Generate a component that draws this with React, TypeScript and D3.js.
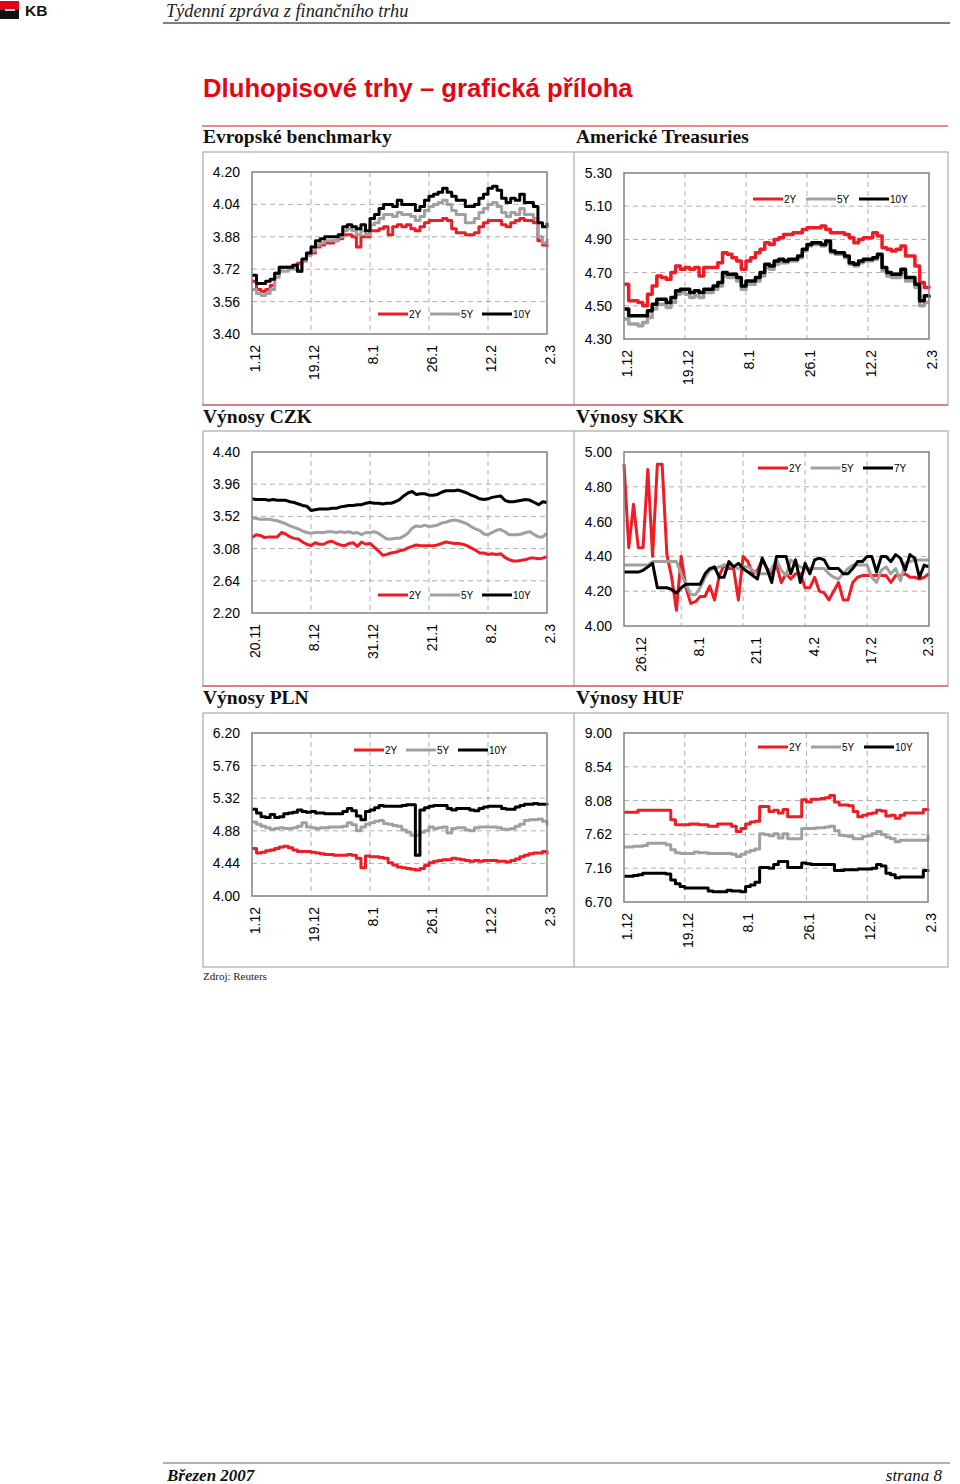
import React from 'react';
import * as d3 from 'd3';

// ---------- DATA ----------
const EUR_LABELS = ['1.12', '19.12', '8.1', '26.1', '12.2', '2.3'];
const EUR_TICK_IDX = [0, 13, 26, 39, 52, 65];
const EUR_Y_TICKS = [3.4, 3.56, 3.72, 3.88, 4.04, 4.2];
const EUR_2Y = [3.66, 3.62, 3.61, 3.62, 3.64, 3.70, 3.73, 3.73, 3.73, 3.74, 3.75, 3.76, 3.79, 3.80, 3.83, 3.84, 3.85, 3.85, 3.86, 3.87, 3.89, 3.89, 3.88, 3.83, 3.88, 3.88, 3.91, 3.91, 3.92, 3.93, 3.89, 3.93, 3.94, 3.93, 3.94, 3.92, 3.91, 3.93, 3.95, 3.96, 3.96, 3.96, 3.97, 3.96, 3.92, 3.90, 3.90, 3.89, 3.89, 3.90, 3.93, 3.95, 3.96, 3.96, 3.96, 3.94, 3.93, 3.95, 3.96, 3.97, 3.96, 3.96, 3.95, 3.86, 3.84, 3.83];
const EUR_5Y = [3.62, 3.60, 3.59, 3.60, 3.62, 3.68, 3.71, 3.71, 3.72, 3.72, 3.71, 3.76, 3.79, 3.81, 3.84, 3.85, 3.86, 3.86, 3.86, 3.88, 3.91, 3.92, 3.91, 3.89, 3.91, 3.89, 3.94, 3.95, 3.97, 3.99, 3.99, 3.98, 4.00, 3.99, 3.99, 3.98, 3.96, 3.98, 4.01, 4.03, 4.04, 4.05, 4.06, 4.04, 4.01, 3.99, 3.99, 3.95, 3.95, 3.97, 4.00, 4.02, 4.04, 4.05, 4.03, 4.00, 3.98, 4.00, 3.99, 4.02, 3.99, 3.99, 3.97, 3.88, 3.85, 3.87];
const EUR_10Y = [3.69, 3.65, 3.65, 3.66, 3.67, 3.70, 3.73, 3.73, 3.73, 3.74, 3.71, 3.77, 3.80, 3.83, 3.86, 3.87, 3.88, 3.88, 3.88, 3.89, 3.93, 3.94, 3.93, 3.92, 3.94, 3.91, 3.97, 3.99, 4.02, 4.04, 4.04, 4.03, 4.06, 4.04, 4.04, 4.04, 4.01, 4.03, 4.06, 4.08, 4.09, 4.10, 4.12, 4.10, 4.08, 4.06, 4.06, 4.03, 4.03, 4.04, 4.07, 4.09, 4.12, 4.13, 4.11, 4.07, 4.05, 4.07, 4.06, 4.09, 4.05, 4.05, 4.03, 3.95, 3.93, 3.95];

const US_LABELS = ['1.12', '19.12', '8.1', '26.1', '12.2', '2.3'];
const US_TICK_IDX = [0, 13, 26, 39, 52, 65];
const US_Y_TICKS = [4.3, 4.5, 4.7, 4.9, 5.1, 5.3];
const US_2Y = [4.63, 4.53, 4.53, 4.52, 4.50, 4.57, 4.62, 4.68, 4.67, 4.66, 4.70, 4.74, 4.72, 4.73, 4.72, 4.73, 4.68, 4.73, 4.73, 4.73, 4.76, 4.82, 4.81, 4.79, 4.77, 4.72, 4.77, 4.79, 4.82, 4.84, 4.88, 4.87, 4.90, 4.91, 4.93, 4.93, 4.94, 4.94, 4.96, 4.97, 4.97, 4.97, 4.98, 4.96, 4.94, 4.94, 4.94, 4.93, 4.91, 4.88, 4.90, 4.91, 4.91, 4.94, 4.92, 4.85, 4.84, 4.83, 4.84, 4.86, 4.80, 4.80, 4.74, 4.64, 4.61, 4.62];
const US_5Y = [4.42, 4.39, 4.39, 4.38, 4.40, 4.43, 4.48, 4.51, 4.51, 4.49, 4.52, 4.57, 4.58, 4.57, 4.55, 4.56, 4.55, 4.58, 4.58, 4.60, 4.62, 4.68, 4.67, 4.67, 4.65, 4.60, 4.63, 4.63, 4.65, 4.68, 4.73, 4.72, 4.75, 4.76, 4.76, 4.77, 4.77, 4.79, 4.83, 4.86, 4.87, 4.87, 4.86, 4.88, 4.82, 4.81, 4.81, 4.79, 4.75, 4.74, 4.76, 4.77, 4.77, 4.78, 4.80, 4.71, 4.68, 4.67, 4.67, 4.70, 4.65, 4.65, 4.61, 4.50, 4.52, 4.52];
const US_10Y = [4.48, 4.44, 4.44, 4.44, 4.44, 4.47, 4.51, 4.54, 4.54, 4.52, 4.55, 4.59, 4.60, 4.60, 4.58, 4.59, 4.58, 4.60, 4.60, 4.62, 4.64, 4.70, 4.69, 4.69, 4.67, 4.62, 4.65, 4.65, 4.67, 4.70, 4.75, 4.74, 4.77, 4.78, 4.77, 4.78, 4.78, 4.80, 4.84, 4.87, 4.88, 4.88, 4.87, 4.89, 4.83, 4.82, 4.82, 4.80, 4.76, 4.75, 4.77, 4.78, 4.78, 4.79, 4.81, 4.73, 4.70, 4.69, 4.69, 4.72, 4.67, 4.67, 4.63, 4.53, 4.56, 4.55];

const CZK_LABELS = ['20.11', '8.12', '31.12', '21.1', '8.2', '2.3'];
const CZK_TICK_IDX = [0, 14, 28, 42, 56, 70];
const CZK_Y_TICKS = [2.2, 2.64, 3.08, 3.52, 3.96, 4.4];
const CZK_2Y = [3.23, 3.27, 3.26, 3.23, 3.24, 3.24, 3.24, 3.30, 3.28, 3.24, 3.22, 3.21, 3.17, 3.14, 3.12, 3.16, 3.14, 3.14, 3.17, 3.18, 3.15, 3.13, 3.12, 3.15, 3.16, 3.11, 3.17, 3.14, 3.15, 3.10, 3.05, 2.99, 3.00, 3.02, 3.03, 3.05, 3.06, 3.09, 3.11, 3.13, 3.12, 3.12, 3.12, 3.12, 3.13, 3.15, 3.17, 3.16, 3.15, 3.15, 3.14, 3.12, 3.09, 3.06, 3.02, 3.02, 3.00, 3.01, 3.00, 3.01, 2.96, 2.93, 2.91, 2.91, 2.92, 2.93, 2.95, 2.95, 2.94, 2.95, 2.97];
const CZK_5Y = [3.50, 3.49, 3.48, 3.48, 3.48, 3.47, 3.46, 3.44, 3.42, 3.39, 3.37, 3.35, 3.32, 3.30, 3.29, 3.30, 3.30, 3.30, 3.31, 3.31, 3.30, 3.31, 3.30, 3.31, 3.29, 3.30, 3.27, 3.30, 3.30, 3.31, 3.29, 3.25, 3.21, 3.21, 3.22, 3.22, 3.25, 3.29, 3.36, 3.39, 3.38, 3.40, 3.38, 3.39, 3.40, 3.43, 3.44, 3.46, 3.47, 3.46, 3.44, 3.42, 3.38, 3.35, 3.33, 3.28, 3.27, 3.30, 3.33, 3.34, 3.31, 3.27, 3.27, 3.27, 3.28, 3.30, 3.31, 3.27, 3.24, 3.24, 3.29];
const CZK_10Y = [3.76, 3.75, 3.75, 3.75, 3.74, 3.75, 3.74, 3.74, 3.74, 3.72, 3.71, 3.69, 3.67, 3.66, 3.60, 3.61, 3.62, 3.62, 3.62, 3.63, 3.63, 3.65, 3.66, 3.67, 3.67, 3.68, 3.68, 3.70, 3.71, 3.70, 3.70, 3.69, 3.70, 3.70, 3.72, 3.75, 3.80, 3.84, 3.86, 3.82, 3.83, 3.83, 3.81, 3.81, 3.82, 3.85, 3.87, 3.87, 3.87, 3.88, 3.86, 3.84, 3.81, 3.79, 3.76, 3.75, 3.76, 3.78, 3.79, 3.80, 3.74, 3.72, 3.72, 3.73, 3.74, 3.75, 3.74, 3.71, 3.68, 3.72, 3.71];

const SKK_LABELS = ['26.12', '8.1', '21.1', '4.2', '17.2', '2.3'];
const SKK_LABEL_IDX = [3.0, 15.2, 27.2, 39.3, 51.2, 63.2];
const SKK_GRID_IDX = [12, 25, 38, 51];
const SKK_Y_TICKS = [4.0, 4.2, 4.4, 4.6, 4.8, 5.0];
const SKK_2Y = [4.93, 4.45, 4.70, 4.45, 4.45, 4.90, 4.40, 4.93, 4.93, 4.41, 4.28, 4.09, 4.40, 4.22, 4.13, 4.14, 4.17, 4.17, 4.23, 4.15, 4.29, 4.35, 4.33, 4.33, 4.15, 4.40, 4.37, 4.30, 4.32, 4.38, 4.33, 4.30, 4.35, 4.25, 4.30, 4.27, 4.30, 4.30, 4.22, 4.22, 4.28, 4.20, 4.19, 4.15, 4.20, 4.25, 4.15, 4.15, 4.25, 4.28, 4.29, 4.29, 4.29, 4.29, 4.29, 4.29, 4.25, 4.29, 4.29, 4.30, 4.28, 4.28, 4.27, 4.28, 4.30];
const SKK_5Y = [4.35, 4.35, 4.35, 4.35, 4.35, 4.35, 4.37, 4.37, 4.37, 4.37, 4.37, 4.37, 4.30, 4.24, 4.18, 4.18, 4.22, 4.28, 4.32, 4.33, 4.34, 4.35, 4.35, 4.34, 4.33, 4.34, 4.34, 4.32, 4.30, 4.30, 4.30, 4.33, 4.38, 4.32, 4.29, 4.38, 4.36, 4.34, 4.33, 4.33, 4.33, 4.33, 4.33, 4.30, 4.28, 4.27, 4.30, 4.33, 4.35, 4.35, 4.35, 4.35, 4.28, 4.25, 4.32, 4.34, 4.30, 4.33, 4.26, 4.36, 4.37, 4.38, 4.38, 4.38, 4.38];
const SKK_7Y = [4.31, 4.31, 4.31, 4.31, 4.32, 4.34, 4.36, 4.22, 4.22, 4.22, 4.21, 4.19, 4.22, 4.24, 4.24, 4.24, 4.24, 4.30, 4.33, 4.34, 4.28, 4.28, 4.37, 4.34, 4.36, 4.33, 4.31, 4.29, 4.27, 4.39, 4.33, 4.25, 4.40, 4.40, 4.40, 4.30, 4.38, 4.25, 4.36, 4.30, 4.38, 4.39, 4.38, 4.33, 4.33, 4.33, 4.30, 4.30, 4.33, 4.37, 4.37, 4.40, 4.40, 4.31, 4.40, 4.40, 4.37, 4.41, 4.39, 4.32, 4.41, 4.39, 4.28, 4.35, 4.34];

const PLN_LABELS = ['1.12', '19.12', '8.1', '26.1', '12.2', '2.3'];
const PLN_TICK_IDX = [0, 13, 26, 39, 52, 65];
const PLN_Y_TICKS = [4.0, 4.44, 4.88, 5.32, 5.76, 6.2];
const PLN_2Y = [4.64, 4.58, 4.59, 4.61, 4.62, 4.64, 4.66, 4.67, 4.65, 4.62, 4.60, 4.60, 4.60, 4.59, 4.58, 4.57, 4.56, 4.56, 4.55, 4.55, 4.55, 4.56, 4.55, 4.51, 4.38, 4.54, 4.53, 4.53, 4.52, 4.51, 4.45, 4.42, 4.39, 4.38, 4.37, 4.36, 4.35, 4.37, 4.41, 4.45, 4.47, 4.48, 4.49, 4.49, 4.51, 4.50, 4.49, 4.48, 4.47, 4.48, 4.47, 4.48, 4.48, 4.48, 4.47, 4.47, 4.46, 4.48, 4.50, 4.53, 4.55, 4.57, 4.58, 4.58, 4.60, 4.56];
const PLN_5Y = [5.00, 4.97, 4.94, 4.92, 4.90, 4.91, 4.92, 4.91, 4.91, 4.92, 4.94, 4.99, 4.93, 4.92, 4.91, 4.92, 4.92, 4.93, 4.93, 4.93, 4.94, 4.99, 4.96, 4.88, 4.93, 4.97, 4.99, 5.01, 5.02, 4.98, 4.97, 4.95, 4.94, 4.89, 4.86, 4.82, 4.82, 4.86, 4.88, 4.93, 4.91, 4.92, 4.93, 4.85, 4.91, 4.92, 4.92, 4.89, 4.88, 4.92, 4.93, 4.93, 4.93, 4.93, 4.92, 4.90, 4.90, 4.91, 4.94, 4.97, 5.02, 5.03, 5.03, 5.04, 5.01, 4.95];
const PLN_10Y = [5.17, 5.12, 5.07, 5.06, 5.10, 5.06, 5.07, 5.11, 5.12, 5.13, 5.16, 5.14, 5.13, 5.14, 5.12, 5.12, 5.11, 5.11, 5.11, 5.11, 5.14, 5.18, 5.15, 5.08, 5.03, 5.14, 5.16, 5.19, 5.22, 5.21, 5.21, 5.21, 5.21, 5.22, 5.23, 5.23, 4.55, 5.16, 5.19, 5.21, 5.22, 5.22, 5.22, 5.18, 5.16, 5.18, 5.18, 5.18, 5.16, 5.15, 5.18, 5.20, 5.21, 5.21, 5.21, 5.18, 5.17, 5.17, 5.20, 5.22, 5.24, 5.24, 5.25, 5.24, 5.24, 5.22];

const HUF_LABELS = ['1.12', '19.12', '8.1', '26.1', '12.2', '2.3'];
const HUF_TICK_IDX = [0, 13, 26, 39, 52, 65];
const HUF_Y_TICKS = [6.7, 7.16, 7.62, 8.08, 8.54, 9.0];
const HUF_2Y = [7.92, 7.92, 7.92, 7.95, 7.95, 7.95, 7.95, 7.95, 7.95, 7.95, 7.82, 7.75, 7.75, 7.75, 7.76, 7.76, 7.75, 7.75, 7.73, 7.73, 7.76, 7.76, 7.76, 7.73, 7.66, 7.70, 7.76, 7.79, 7.80, 8.00, 8.00, 7.93, 7.95, 7.91, 7.96, 7.86, 7.86, 7.86, 8.09, 8.06, 8.10, 8.10, 8.11, 8.12, 8.15, 8.06, 8.02, 8.02, 8.01, 7.93, 7.86, 7.88, 7.90, 7.91, 7.95, 7.94, 7.87, 7.88, 7.84, 7.88, 7.91, 7.91, 7.91, 7.91, 7.96, 7.94];
const HUF_5Y = [7.45, 7.45, 7.46, 7.46, 7.47, 7.50, 7.50, 7.50, 7.50, 7.48, 7.41, 7.37, 7.36, 7.36, 7.36, 7.38, 7.37, 7.37, 7.36, 7.36, 7.36, 7.36, 7.36, 7.35, 7.32, 7.35, 7.38, 7.40, 7.42, 7.63, 7.62, 7.60, 7.63, 7.57, 7.63, 7.56, 7.56, 7.56, 7.70, 7.70, 7.70, 7.71, 7.71, 7.72, 7.73, 7.67, 7.61, 7.60, 7.59, 7.56, 7.56, 7.59, 7.60, 7.63, 7.66, 7.62, 7.58, 7.56, 7.52, 7.54, 7.54, 7.54, 7.54, 7.54, 7.54, 7.61];
const HUF_10Y = [7.05, 7.05, 7.06, 7.07, 7.09, 7.09, 7.09, 7.09, 7.09, 7.08, 7.00, 6.95, 6.91, 6.89, 6.89, 6.89, 6.89, 6.89, 6.85, 6.84, 6.84, 6.84, 6.86, 6.85, 6.85, 6.84, 6.91, 6.93, 6.97, 7.17, 7.17, 7.16, 7.21, 7.25, 7.25, 7.17, 7.17, 7.17, 7.23, 7.22, 7.21, 7.21, 7.21, 7.21, 7.21, 7.13, 7.13, 7.14, 7.14, 7.14, 7.15, 7.15, 7.15, 7.16, 7.21, 7.19, 7.09, 7.07, 7.03, 7.04, 7.04, 7.04, 7.04, 7.04, 7.13, 7.11];

const RED = '#ee1c25';
const GRAY = '#a0a0a0';
const BLACK = '#000000';
const SANS = 'Liberation Sans, Arial, sans-serif';
const SERIF = 'Liberation Serif, Times New Roman, serif';

type Series = { name: string; values: number[]; color: string };
type ChartCfg = {
  left: number; right: number; top: number; bottom: number;
  yTicks: number[];
  gridIdx: number[];
  labelIdx: number[];
  labels: string[];
  series: Series[];
  legendX: number; legendY: number; legendStep: number;
  step: boolean;
  width: number;
};

function Chart({ cfg }: { cfg: ChartCfg }) {
  const n = cfg.series[0].values.length;
  const x = d3.scaleLinear().domain([0, n - 1]).range([cfg.left, cfg.right]);
  const y = d3.scaleLinear().domain([cfg.yTicks[0], cfg.yTicks[cfg.yTicks.length - 1]]).range([cfg.bottom, cfg.top]);
  const line = d3.line<number>().x((_, i) => x(i)).y((d) => y(d)).curve(cfg.step ? d3.curveStepAfter : d3.curveLinear);
  return (
    <g>
      {cfg.yTicks.slice(1, -1).map((t) => (
        <line key={'h' + t} x1={cfg.left} x2={cfg.right} y1={y(t)} y2={y(t)} stroke="#9a9a9a" strokeWidth={0.8} strokeDasharray="5,4" />
      ))}
      {cfg.gridIdx.filter((t) => t > 0 && t < n - 1).map((t) => (
        <line key={'v' + t} x1={x(t)} x2={x(t)} y1={cfg.top} y2={cfg.bottom} stroke="#9a9a9a" strokeWidth={0.8} strokeDasharray="5,4" />
      ))}
      {cfg.series.map((s) => (
        <path key={s.name} d={line(s.values) || ''} fill="none" stroke={s.color} strokeWidth={cfg.width} strokeLinejoin="round" />
      ))}
      <rect x={cfg.left} y={cfg.top} width={cfg.right - cfg.left} height={cfg.bottom - cfg.top} fill="none" stroke="#808080" strokeWidth={1.5} />
      {cfg.yTicks.map((t) => (
        <text key={'yl' + t} x={cfg.left - 12} y={y(t)} dy="0.35em" textAnchor="end" fontFamily={SANS} fontSize={14} fill="#000">{t.toFixed(2)}</text>
      ))}
      {cfg.labels.map((lab, i) => (
        <text key={'xl' + lab} transform={`translate(${x(cfg.labelIdx[i])},${cfg.bottom + 11}) rotate(-90)`} dy="0.56em" textAnchor="end" fontFamily={SANS} fontSize={14} fill="#000">{lab}</text>
      ))}
      {cfg.series.map((s, i) => (
        <g key={'lg' + s.name}>
          <line x1={cfg.legendX + i * cfg.legendStep} x2={cfg.legendX + i * cfg.legendStep + 30} y1={cfg.legendY} y2={cfg.legendY} stroke={s.color} strokeWidth={3} />
          <text x={cfg.legendX + i * cfg.legendStep + 31} y={cfg.legendY} dy="0.35em" fontFamily={SANS} fontSize={10} fill="#000">{s.name}</text>
        </g>
      ))}
    </g>
  );
}

const charts: ChartCfg[] = [
  {
    left: 252, right: 547, top: 172, bottom: 334, yTicks: EUR_Y_TICKS, gridIdx: EUR_TICK_IDX, labelIdx: EUR_TICK_IDX, labels: EUR_LABELS,
    series: [{ name: '2Y', values: EUR_2Y, color: RED }, { name: '5Y', values: EUR_5Y, color: GRAY }, { name: '10Y', values: EUR_10Y, color: BLACK }],
    legendX: 378, legendY: 314, legendStep: 52, step: true, width: 3,
  },
  {
    left: 624, right: 929, top: 173, bottom: 339, yTicks: US_Y_TICKS, gridIdx: US_TICK_IDX, labelIdx: US_TICK_IDX, labels: US_LABELS,
    series: [{ name: '2Y', values: US_2Y, color: RED }, { name: '5Y', values: US_5Y, color: GRAY }, { name: '10Y', values: US_10Y, color: BLACK }],
    legendX: 753, legendY: 199, legendStep: 53, step: true, width: 3.5,
  },
  {
    left: 252, right: 547, top: 452, bottom: 613, yTicks: CZK_Y_TICKS, gridIdx: CZK_TICK_IDX, labelIdx: CZK_TICK_IDX, labels: CZK_LABELS,
    series: [{ name: '2Y', values: CZK_2Y, color: RED }, { name: '5Y', values: CZK_5Y, color: GRAY }, { name: '10Y', values: CZK_10Y, color: BLACK }],
    legendX: 378, legendY: 595, legendStep: 52, step: false, width: 3,
  },
  {
    left: 624, right: 929, top: 452, bottom: 626, yTicks: SKK_Y_TICKS, gridIdx: SKK_GRID_IDX, labelIdx: SKK_LABEL_IDX, labels: SKK_LABELS,
    series: [{ name: '2Y', values: SKK_2Y, color: RED }, { name: '5Y', values: SKK_5Y, color: GRAY }, { name: '7Y', values: SKK_7Y, color: BLACK }],
    legendX: 758, legendY: 468, legendStep: 52.5, step: false, width: 3,
  },
  {
    left: 252, right: 547, top: 733, bottom: 896, yTicks: PLN_Y_TICKS, gridIdx: PLN_TICK_IDX, labelIdx: PLN_TICK_IDX, labels: PLN_LABELS,
    series: [{ name: '2Y', values: PLN_2Y, color: RED }, { name: '5Y', values: PLN_5Y, color: GRAY }, { name: '10Y', values: PLN_10Y, color: BLACK }],
    legendX: 354, legendY: 750, legendStep: 52, step: true, width: 3,
  },
  {
    left: 624, right: 928, top: 733, bottom: 902, yTicks: HUF_Y_TICKS, gridIdx: HUF_TICK_IDX, labelIdx: HUF_TICK_IDX, labels: HUF_LABELS,
    series: [{ name: '2Y', values: HUF_2Y, color: RED }, { name: '5Y', values: HUF_5Y, color: GRAY }, { name: '10Y', values: HUF_10Y, color: BLACK }],
    legendX: 758, legendY: 747, legendStep: 53, step: true, width: 3,
  },
];

const SECTION_TITLES = [
  { text: 'Evropské benchmarky', x: 203, y: 143 },
  { text: 'Americké Treasuries', x: 576, y: 143 },
  { text: 'Výnosy CZK', x: 203, y: 423 },
  { text: 'Výnosy SKK', x: 576, y: 423 },
  { text: 'Výnosy PLN', x: 203, y: 704 },
  { text: 'Výnosy HUF', x: 576, y: 704 },
];

const BOXES = [
  { top: 152, bottom: 405 },
  { top: 431, bottom: 686 },
  { top: 713, bottom: 967 },
];

export default function App() {
  return (
    <svg width={960} height={1484} style={{ position: 'absolute', left: 0, top: 0, background: '#fff' }}>
      <rect x={0} y={0} width={960} height={1484} fill="#fff" />
      {/* header */}
      <rect x={0} y={1} width={19} height={9} fill="#e2001a" />
      <rect x={0} y={10} width={19} height={9} fill="#111" />
      <line x1={5} x2={15} y1={10} y2={10} stroke="#fff" strokeWidth={1.6} />
      <text x={25} y={16} fontFamily={SANS} fontWeight="bold" fontSize={15.5} fill="#111">KB</text>
      <text x={166} y={17} fontFamily={SERIF} fontStyle="italic" fontSize={18.3} fill="#222">Týdenní zpráva z finančního trhu</text>
      <line x1={163} x2={950} y1={23} y2={23} stroke="#555" strokeWidth={1.5} />

      <text x={203} y={97} fontFamily={SANS} fontWeight="bold" fontSize={25.7} fill="#e30613">Dluhopisové trhy – grafická příloha</text>
      <line x1={202} x2={948} y1={126} y2={126} stroke="#d9696b" strokeWidth={1.5} />

      {SECTION_TITLES.map((s) => (
        <text key={s.text} x={s.x} y={s.y} fontFamily={SERIF} fontWeight="bold" fontSize={19.5} fill="#111">{s.text}</text>
      ))}
      {BOXES.map((b) => (
        <g key={b.top}>
          <rect x={203} y={b.top} width={745} height={b.bottom - b.top} fill="none" stroke="#9a9a9a" strokeWidth={1} />
          <line x1={574} x2={574} y1={b.top} y2={b.bottom} stroke="#9a9a9a" strokeWidth={1} />
        </g>
      ))}
      <line x1={202} x2={948} y1={405} y2={405} stroke="#d9696b" strokeWidth={1.5} />
      <line x1={202} x2={948} y1={686} y2={686} stroke="#d9696b" strokeWidth={1.5} />

      {charts.map((c, i) => <Chart key={i} cfg={c} />)}

      <text x={203} y={980} fontFamily={SERIF} fontSize={11} fill="#222">Zdroj: Reuters</text>

      {/* footer */}
      <line x1={163} x2={950} y1={1463} y2={1463} stroke="#666" strokeWidth={1.2} />
      <text x={167} y={1481} fontFamily={SERIF} fontStyle="italic" fontWeight="bold" fontSize={17} fill="#111">Březen 2007</text>
      <text x={942} y={1481} textAnchor="end" fontFamily={SERIF} fontStyle="italic" fontSize={17} fill="#111">strana 8</text>
    </svg>
  );
}
